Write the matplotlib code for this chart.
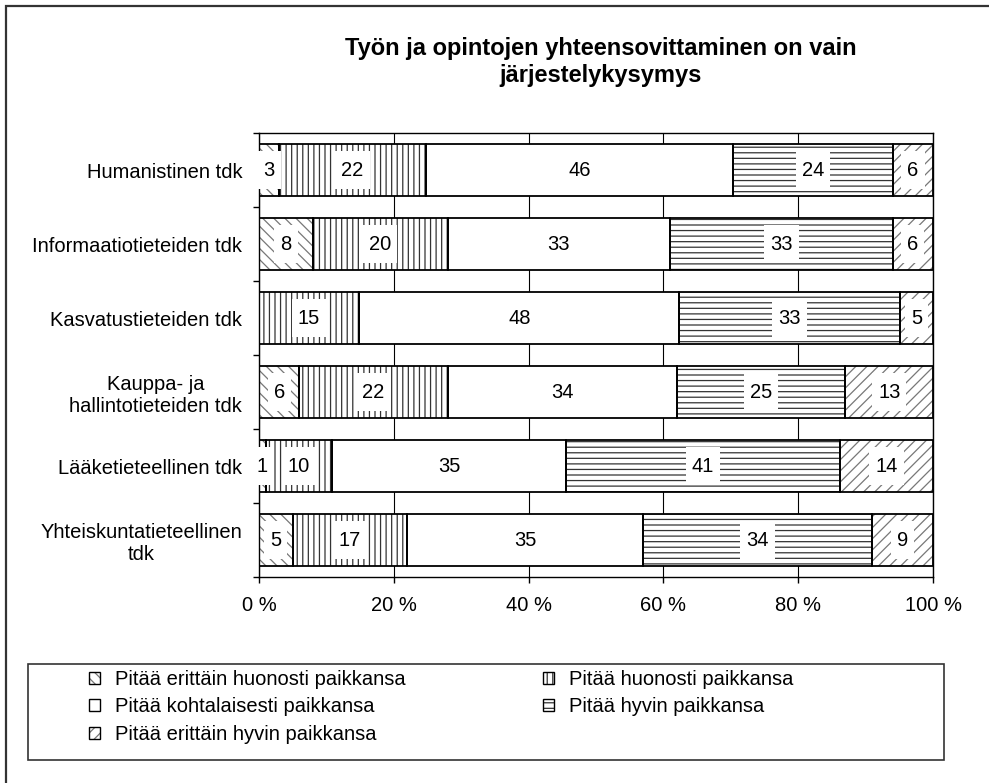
import numpy as np
import matplotlib
matplotlib.use("Agg")
import matplotlib.pyplot as plt
from matplotlib.patches import Patch, Rectangle
from matplotlib.path import Path
from matplotlib.legend_handler import HandlerTuple

plt.rcParams['font.family'] = ['Liberation Sans', 'DejaVu Sans']
plt.rcParams['hatch.linewidth'] = 0.9

# Tiedekunnat ylhäältä alas
faculties = ['Humanistinen tdk', 'Informaatiotieteiden tdk', 'Kasvatustieteiden tdk',
             'Kauppa- ja\nhallintotieteiden tdk', 'Lääketieteellinen tdk',
             'Yhteiskuntatieteellinen\ntdk']

answers = ['Pitää erittäin huonosti paikkansa', 'Pitää huonosti paikkansa',
           'Pitää kohtalaisesti paikkansa', 'Pitää hyvin paikkansa',
           'Pitää erittäin hyvin paikkansa']

# Prosenttiosuudet vastausvaihtoehdoittain (sama järjestys kuin faculties)
very_poorly = [3, 8, 0, 6, 1, 5]
poorly = [22, 20, 15, 22, 10, 17]
moderately = [46, 33, 48, 34, 35, 35]
well = [24, 33, 33, 25, 41, 34]
very_well = [6, 6, 5, 13, 14, 9]

x_ticks = [0, 20, 40, 60, 80, 100]
x_ticklabels = ['0 %', '20 %', '40 %', '60 %', '80 %', '100 %']

series = [very_poorly, poorly, moderately, well, very_well]
hatches = ['\\\\\\', '|||', '', '---', '///']
hatch_colors = ['#777777', '#333333', 'white', '#333333', '#777777']


def label_box(x0, y0, width, height, mutation_size):
    # valkoinen tausta arvoille, korkeampi kuin leveämpi
    px, py = 0.3 * mutation_size, 0.45 * mutation_size
    x0, y0 = x0 - px, y0 - py
    x1, y1 = x0 + width + 2 * px, y0 + height + 2 * py
    return Path([(x0, y0), (x1, y0), (x1, y1), (x0, y1), (x0, y0)], closed=True)


W, H = 989, 783
fig = plt.figure(figsize=(W / 100, H / 100), dpi=100)
ax = fig.add_axes([259 / W, 1 - 577 / H, (933 - 259) / W, (577 - 133) / H])

values = np.array(series, dtype=float)
totals = values.sum(axis=0)
shares = values / totals * 100
y = np.arange(len(faculties))
bar_h = 0.71

left = np.zeros(len(faculties))
for k in range(len(series)):
    # täyttö + kuviointi, sitten musta reunaviiva erikseen
    ax.barh(y, shares[k], left=left, height=bar_h, color='white',
            edgecolor=hatch_colors[k], hatch=hatches[k], linewidth=0, zorder=2)
    ax.barh(y, shares[k], left=left, height=bar_h, fill=False,
            edgecolor='black', linewidth=1.3, zorder=3)
    for i, v in enumerate(series[k]):
        if v > 0:
            ax.text(left[i] + shares[k][i] / 2, y[i], str(v), ha='center', va='center',
                    fontsize=14.5, zorder=4,
                    bbox=dict(boxstyle=label_box, fc='white', ec='none'))
    left += shares[k]

ax.set_xlim(0, 100)
ax.set_ylim(len(faculties) - 0.5, -0.5)
ax.set_xticks(x_ticks)
ax.set_xticklabels(x_ticklabels, fontsize=14.5)
ax.tick_params(axis='x', direction='out', length=4, width=1, pad=10)

ax.set_yticks(np.arange(len(faculties) + 1) - 0.5)
ax.set_yticklabels([])
ax.set_yticks(y, minor=True)
ax.set_yticklabels(faculties, minor=True, fontsize=14.5)
ax.tick_params(axis='y', which='major', direction='out', length=4, width=1)
ax.tick_params(axis='y', which='minor', length=0, pad=12)
for lab in ax.get_yticklabels(minor=True):
    lab.set_multialignment('center')

ax.grid(axis='x', color='black', linewidth=0.8, zorder=0)
ax.set_axisbelow(True)
for s in ax.spines.values():
    s.set_linewidth(1.0)
    s.set_color('black')

fig.text(0.607, 1 - 62 / H, 'Työn ja opintojen yhteensovittaminen on vain\njärjestelykysymys',
         ha='center', va='center', fontsize=17, fontweight='bold', linespacing=1.2)

# selitteen kehys ja ulkoreuna
fig.add_artist(Rectangle((28 / W, 1 - 760 / H), (944 - 28) / W, 96 / H,
                         transform=fig.transFigure, fill=False, edgecolor='#333333', linewidth=1.2))
fig.add_artist(Rectangle((6 / W, -0.1), 1.2, 1.1 - 6 / H,
                         transform=fig.transFigure, fill=False, edgecolor='#333333', linewidth=1.6))

handles = []
for k in range(len(series)):
    handles.append((Patch(facecolor='white', edgecolor=hatch_colors[k], hatch=hatches[k], linewidth=0),
                    Patch(fill=False, edgecolor='black', linewidth=1.0)))
# rivi kerrallaan: matplotlib täyttää sarakkeet ensin
order = [0, 2, 4, 1, 3]
fig.legend([handles[i] for i in order], [answers[i] for i in order],
           handler_map={tuple: HandlerTuple(ndivide=1, pad=0)},
           loc='upper left', bbox_to_anchor=(89 / W, 1 - 670 / H), ncol=2,
           frameon=False, fontsize=14.5, borderpad=0, borderaxespad=0,
           handlelength=0.55, handleheight=0.55, handletextpad=0.75,
           columnspacing=6.8, labelspacing=0.42)

fig.savefig('out.png', dpi=100)
